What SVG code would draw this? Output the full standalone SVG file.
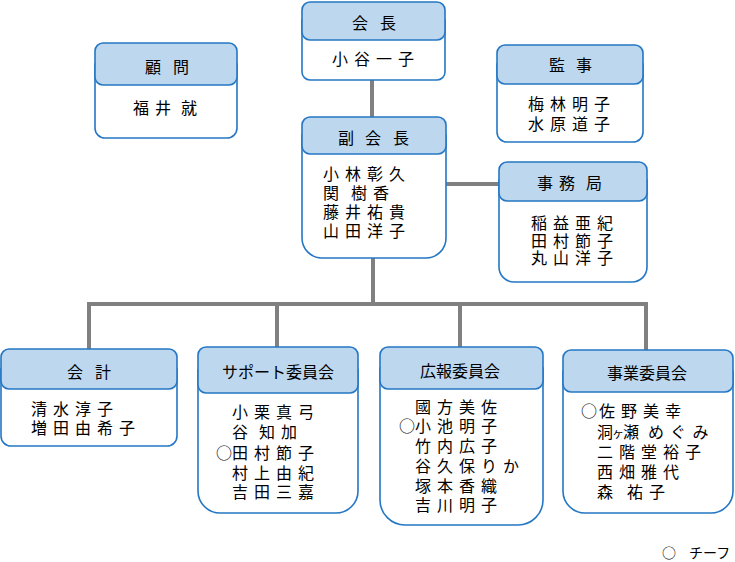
<svg xmlns="http://www.w3.org/2000/svg" width="735" height="562" viewBox="0 0 735 562">
<style>
  text { font-family: "Noto Sans CJK JP", "Noto Sans CJK SC", sans-serif; font-size: 16px; fill: #000; }
  .hd { fill: #bdd7ee; stroke: #2477c4; stroke-width: 1.6; }
  .bd { fill: #fff; stroke: #2477c4; stroke-width: 1.6; }
  .nm { letter-spacing: 6px; }
  .sp { letter-spacing: 0; }
  .conn { fill: none; stroke: #808080; stroke-width: 4; }
  .leg { font-size: 14px; }
</style>
<rect width="735" height="562" fill="#fff"/>
<g id="connectors">
  <path class="conn" d="M372 80V117"/>
  <path class="conn" d="M446 184H499"/>
  <path class="conn" d="M373 258V304"/>
  <path class="conn" d="M89 349V304H646V350"/>
  <path class="conn" d="M277 304V347"/>
  <path class="conn" d="M460 304V347"/>
</g>
<g id="kaicho">
  <path class="bd" d="M302 20V72A8 8 0 0 0 310 80H437A8 8 0 0 0 445 72V20Z"/>
  <rect class="hd" x="302" y="2" width="143" height="38" rx="8"/>
  <text x="352 368 380" y="28.5">会 長</text>
  <text class="nm" x="332" y="64.5">小谷一子</text>
</g>
<g id="fukukaicho">
  <path class="bd" d="M302 135V238A20 20 0 0 0 322 258H426A20 20 0 0 0 446 238V135Z"/>
  <rect class="hd" x="302" y="117" width="144" height="37" rx="8"/>
  <text x="338 354 365 381 393" y="143.5">副 会 長</text>
  <text class="nm" x="323" y="179.5">小林彰久</text>
  <text class="nm" y="198.5"><tspan x="323">関</tspan><tspan class="sp"> </tspan><tspan x="351">樹香</tspan></text>
  <text class="nm" x="323" y="217.5">藤井祐貴</text>
  <text class="nm" x="323" y="236.5">山田洋子</text>
</g>
<g id="komon">
  <path class="bd" d="M95 64V128A10 10 0 0 0 105 138H227A10 10 0 0 0 237 128V64Z"/>
  <rect class="hd" x="95" y="43" width="142" height="42" rx="8"/>
  <text x="145 161 173" y="73">顧 問</text>
  <text class="nm" y="114"><tspan x="133">福井</tspan><tspan class="sp"> </tspan><tspan x="181">就</tspan></text>
</g>
<g id="kanji">
  <path class="bd" d="M497 64V132A10 10 0 0 0 507 142H633A10 10 0 0 0 643 132V64Z"/>
  <rect class="hd" x="497" y="45" width="146" height="39" rx="8"/>
  <text x="549 565 576" y="71">監 事</text>
  <text class="nm" x="528" y="110">梅林明子</text>
  <text class="nm" x="528" y="129.5">水原道子</text>
</g>
<g id="jimukyoku">
  <path class="bd" d="M499 180V267A15 15 0 0 0 514 282H632A15 15 0 0 0 647 267V180Z"/>
  <rect class="hd" x="499" y="162" width="148" height="39" rx="8"/>
  <text x="537 553 559 575 586" y="188.5">事 務 局</text>
  <text class="nm" x="531" y="228.7">稲益亜紀</text>
  <text class="nm" x="531" y="246.7">田村節子</text>
  <text class="nm" x="531" y="264.3">丸山洋子</text>
</g>
<g id="kaikei">
  <path class="bd" d="M1 369V436A10 10 0 0 0 11 446H167A10 10 0 0 0 177 436V369Z"/>
  <rect class="hd" x="1" y="349" width="176" height="40" rx="8"/>
  <text x="67 83 95" y="377.7">会 計</text>
  <text class="nm" x="31" y="414.8">清水淳子</text>
  <text class="nm" x="31" y="434.2">増田由希子</text>
</g>
<g id="support">
  <path class="bd" d="M198 370V491A22 22 0 0 0 220 513H336A22 22 0 0 0 358 491V370Z"/>
  <rect class="hd" x="198" y="347" width="160" height="46" rx="8"/>
  <text x="222" y="377.7">サポート委員会</text>
  <text class="nm" x="232" y="418">小栗真弓</text>
  <text class="nm" y="438"><tspan x="232">谷</tspan><tspan class="sp"> </tspan><tspan x="259">知加</tspan></text>
  <text class="nm" y="458.5"><tspan x="216" class="sp">○</tspan><tspan x="232">田村節子</tspan></text>
  <text class="nm" x="232" y="478.5">村上由紀</text>
  <text class="nm" x="232" y="498">吉田三嘉</text>
</g>
<g id="koho">
  <path class="bd" d="M380 368V500A25 25 0 0 0 405 525H518A25 25 0 0 0 543 500V368Z"/>
  <rect class="hd" x="380" y="347" width="163" height="42" rx="8"/>
  <text x="420" y="376.8">広報委員会</text>
  <text class="nm" x="415" y="412.7">國方美佐</text>
  <text class="nm" y="432.3"><tspan x="399" class="sp">○</tspan><tspan x="415">小池明子</tspan></text>
  <text class="nm" x="415" y="452.3">竹内広子</text>
  <text class="nm" x="415" y="471.8">谷久保りか</text>
  <text class="nm" x="415" y="491.8">塚本香織</text>
  <text class="nm" x="415" y="511">吉川明子</text>
</g>
<g id="jigyo">
  <path class="bd" d="M563 371V491A22 22 0 0 0 585 513H711A22 22 0 0 0 733 491V371Z"/>
  <rect class="hd" x="563" y="350" width="170" height="42" rx="8"/>
  <text x="607" y="379">事業委員会</text>
  <text class="nm" y="417.2"><tspan x="581" class="sp">○</tspan><tspan x="599">佐野美幸</tspan></text>
  <text y="437.7"><tspan x="597">洞</tspan><tspan x="612" font-size="12">ヶ</tspan><tspan x="623">瀬</tspan><tspan class="nm" x="648">めぐみ</tspan></text>
  <text class="nm" x="597" y="458.2">二階堂裕子</text>
  <text class="nm" x="597" y="477.7">西畑雅代</text>
  <text class="nm" y="497.7"><tspan x="597">森</tspan><tspan class="sp"> </tspan><tspan x="627">祐子</tspan></text>
</g>
<g id="legend">
  <text class="leg" x="662" y="558">○</text>
  <text class="leg" x="689" y="558">チーフ</text>
</g>
</svg>
